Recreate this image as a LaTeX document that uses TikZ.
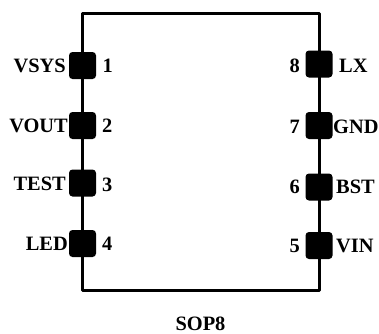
\documentclass[tikz,border=0pt]{standalone}
\usepackage{fontspec}
\setmainfont{Liberation Serif}
\begin{document}
\begin{tikzpicture}[x=1pt,y=-1pt,
  pad/.style={fill=black,draw=none,rounded corners=3.5pt,minimum width=27pt,minimum height=27pt,inner sep=0pt},
  lbl/.style={font=\fontsize{20.4}{21}\selectfont\bfseries,inner sep=0pt},
  body/.style={draw=black,line width=3pt,line join=round}]
\useasboundingbox (0,0) rectangle (379,333);
\coordinate (tl) at (82,13);
\coordinate (br) at (319,290);
\draw[body] (tl) rectangle (br);
\node[pad] (p1) at (82.5,65.5) {};
\node[pad] (p2) at (82.5,125.5) {};
\node[pad] (p3) at (82.5,183) {};
\node[pad] (p4) at (82.5,243.5) {};
\node[pad] (p8) at (319,64) {};
\node[pad] (p7) at (319,125.5) {};
\node[pad] (p6) at (319,187) {};
\node[pad] (p5) at (319,245.5) {};
\node[lbl,anchor=base east] (l1) at (66,72) {VSYS};
\node[lbl,anchor=base east] (l2) at (68,132.5) {VOUT};
\node[lbl,anchor=base east] (l3) at (66,190.5) {TEST};
\node[lbl,anchor=base east] (l4) at (68,250) {LED};
\node[lbl,anchor=base west] (n1) at (102.5,72.5) {1};
\node[lbl,anchor=base west] (n2) at (102,132.5) {2};
\node[lbl,anchor=base west] (n3) at (102,191) {3};
\node[lbl,anchor=base west] (n4) at (102,250) {4};
\node[lbl,anchor=base east] (n8) at (300,72.5) {8};
\node[lbl,anchor=base east] (n7) at (300,133) {7};
\node[lbl,anchor=base east] (n6) at (300,193) {6};
\node[lbl,anchor=base east] (n5) at (300,252) {5};
\node[lbl,anchor=base west] (l8) at (339,72.5) {LX};
\node[lbl,anchor=base west] (l7) at (333,133) {GND};
\node[lbl,anchor=base west] (l6) at (336,193) {BST};
\node[lbl,anchor=base west] (l5) at (336,252) {VIN};
\node[lbl,anchor=base] (t) at (200.5,330) {SOP8};
\end{tikzpicture}
\end{document}
